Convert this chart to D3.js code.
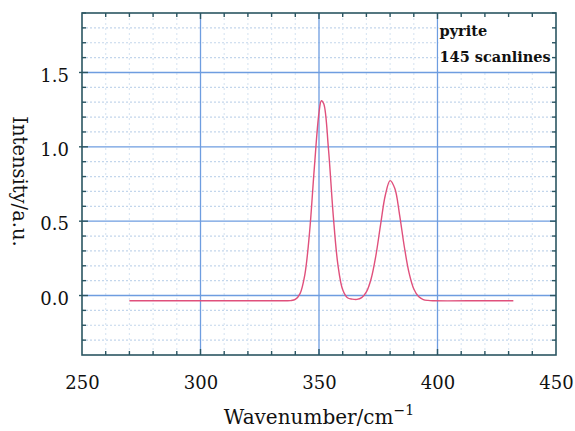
<!DOCTYPE html>
<html>
<head>
<meta charset="utf-8">
<script src="https://cdn.jsdelivr.net/npm/d3@7"></script>
<style>
  html, body { margin: 0; padding: 0; background: #fff; }
  svg { display: block; }
</style>
</head>
<body>
<svg id="chart" width="575" height="431"></svg>
<script>
// ---- data ----
const wavenumber = [270, 300, 330, 336, 338, 340, 342, 344, 346, 348, 350, 351, 352, 354, 356, 358, 360, 362, 364, 366, 368, 370, 372, 374, 376, 378, 380, 382, 384, 386, 388, 390, 392, 394, 396, 398, 420, 432];
const intensity  = [-0.035, -0.035, -0.035, -0.035, -0.034, -0.026, 0.013, 0.138, 0.422, 0.852, 1.23, 1.31, 1.29, 0.984, 0.541, 0.204, 0.038, -0.015, -0.024, -0.026, -0.014, 0.024, 0.113, 0.269, 0.478, 0.676, 0.773, 0.719, 0.543, 0.328, 0.152, 0.044, -0.007, -0.027, -0.033, -0.035, -0.035, -0.035];
const xTickValues = [250, 300, 350, 400, 450];
const yTickValues = [0.0, 0.5, 1.0, 1.5];
const annotations = ["pyrite", "145 scanlines"];
const xLabel = "Wavenumber/cm";
const xLabelSup = "\u22121";
const yLabel = "Intensity/a.u.";

// ---- layout ----
const svg = d3.select("#chart");
const L = 82, R = 556, T = 13, B = 355;
const x = d3.scaleLinear().domain([250, 450]).range([L, R]);
const y = d3.scaleLinear().domain([-0.4, 1.9]).range([B, T]);

const serif = "'DejaVu Serif', 'Liberation Serif', serif";
const gridMajor = "#6e9de0";
const gridMinor = "#c3d6ec";
const frame = "#2b5662";

// minor dotted grid
const xMinor = d3.range(260, 450, 10).filter(v => v % 50 !== 0);
const yMinor = d3.range(-3, 19).map(i => +(i / 10).toFixed(1)).filter(v => Math.abs(v * 2 - Math.round(v * 2)) > 1e-6);

svg.append("g").selectAll("line").data(yMinor).join("line")
  .attr("x1", L).attr("x2", R)
  .attr("y1", d => y(d)).attr("y2", d => y(d))
  .attr("stroke", gridMinor).attr("stroke-width", 1.2)
  .attr("stroke-dasharray", "2,2");
svg.append("g").selectAll("line").data(xMinor).join("line")
  .attr("y1", T).attr("y2", B)
  .attr("x1", d => x(d)).attr("x2", d => x(d))
  .attr("stroke", "#dbe7f3").attr("stroke-width", 1.2)
  .attr("stroke-dasharray", "2,3");

// major grid
svg.append("g").selectAll("line").data([300, 350, 400]).join("line")
  .attr("y1", T).attr("y2", B)
  .attr("x1", d => x(d)).attr("x2", d => x(d))
  .attr("stroke", gridMajor).attr("stroke-width", 1.3);
svg.append("g").selectAll("line").data(yTickValues).join("line")
  .attr("x1", L).attr("x2", R)
  .attr("y1", d => y(d)).attr("y2", d => y(d))
  .attr("stroke", gridMajor).attr("stroke-width", 1.3);

// annotation white box
svg.append("rect")
  .attr("x", x(400) + 1).attr("y", T + 1)
  .attr("width", R - x(400) - 4).attr("height", y(1.5) - T - 3)
  .attr("fill", "#fff");

// curve
const pts = wavenumber.map((w, i) => [w, intensity[i]]);
svg.append("path")
  .datum(pts)
  .attr("fill", "none")
  .attr("stroke", "#e0507c")
  .attr("stroke-width", 1.4)
  .attr("d", d3.line().x(d => x(d[0])).y(d => y(d[1])).curve(d3.curveCatmullRom.alpha(0.5)));

// frame
svg.append("rect")
  .attr("x", L).attr("y", T).attr("width", R - L).attr("height", B - T)
  .attr("fill", "none").attr("stroke", frame).attr("stroke-width", 1.6);

// axes with inward ticks
const xAll = d3.range(250, 451, 10);
const yAll = d3.range(-4, 20).map(i => +(i / 10).toFixed(1));
const isMajX = v => v % 50 === 0;
const isMajY = v => Math.abs(v * 2 - Math.round(v * 2)) < 1e-6;

const bottom = svg.append("g").attr("transform", `translate(0,${B})`)
  .call(d3.axisBottom(x).tickValues(xTickValues).tickSize(0).tickPadding(21).tickFormat(d3.format("d")));
bottom.select(".domain").remove();
bottom.selectAll("text").attr("font-family", serif).attr("font-size", 18).attr("fill", "#111");

const left = svg.append("g").attr("transform", `translate(${L},0)`)
  .call(d3.axisLeft(y).tickValues(yTickValues).tickSize(0).tickPadding(13).tickFormat(d3.format(".1f")));
left.select(".domain").remove();
left.selectAll("text").attr("font-family", serif).attr("font-size", 18).attr("fill", "#111").attr("dy", "0.48em");

// tick marks
const tk = svg.append("g").attr("stroke", frame).attr("stroke-width", 1.4);
tk.selectAll(".tb").data(xAll.slice(1, -1)).join("line")
  .attr("x1", d => x(d)).attr("x2", d => x(d))
  .attr("y1", B).attr("y2", d => B - (isMajX(d) ? 6 : 4));
tk.selectAll(".tt").data(xAll.slice(1, -1)).join("line")
  .attr("x1", d => x(d)).attr("x2", d => x(d))
  .attr("y1", T).attr("y2", d => T + (isMajX(d) ? 6 : 4));
tk.selectAll(".tl").data(yAll.slice(1)).join("line")
  .attr("y1", d => y(d)).attr("y2", d => y(d))
  .attr("x1", d => L - (isMajY(d) ? 3 : 0)).attr("x2", d => L + (isMajY(d) ? 6 : 4));
tk.selectAll(".tr").data(yAll.slice(1)).join("line")
  .attr("y1", d => y(d)).attr("y2", d => y(d))
  .attr("x1", R).attr("x2", d => R - (isMajY(d) ? 6 : 4));

// annotations
svg.append("g").selectAll("text").data(annotations).join("text")
  .attr("x", x(400) + 2)
  .attr("y", (d, i) => 36 + i * 26)
  .attr("font-family", serif).attr("font-weight", "bold").attr("font-size", 14.5)
  .attr("fill", "#111")
  .text(d => d);

// axis labels
const xl = svg.append("text")
  .attr("x", (L + R) / 2).attr("y", 424)
  .attr("text-anchor", "middle")
  .attr("font-family", serif).attr("font-size", 20).attr("fill", "#111");
xl.append("tspan").text(xLabel);
xl.append("tspan").attr("dy", -9).attr("font-size", 14).text(xLabelSup);

svg.append("text")
  .attr("transform", "translate(13,181.5) rotate(90)")
  .attr("text-anchor", "middle")
  .attr("font-family", serif).attr("font-size", 19.5).attr("fill", "#111")
  .text(yLabel);
</script>
</body>
</html>
